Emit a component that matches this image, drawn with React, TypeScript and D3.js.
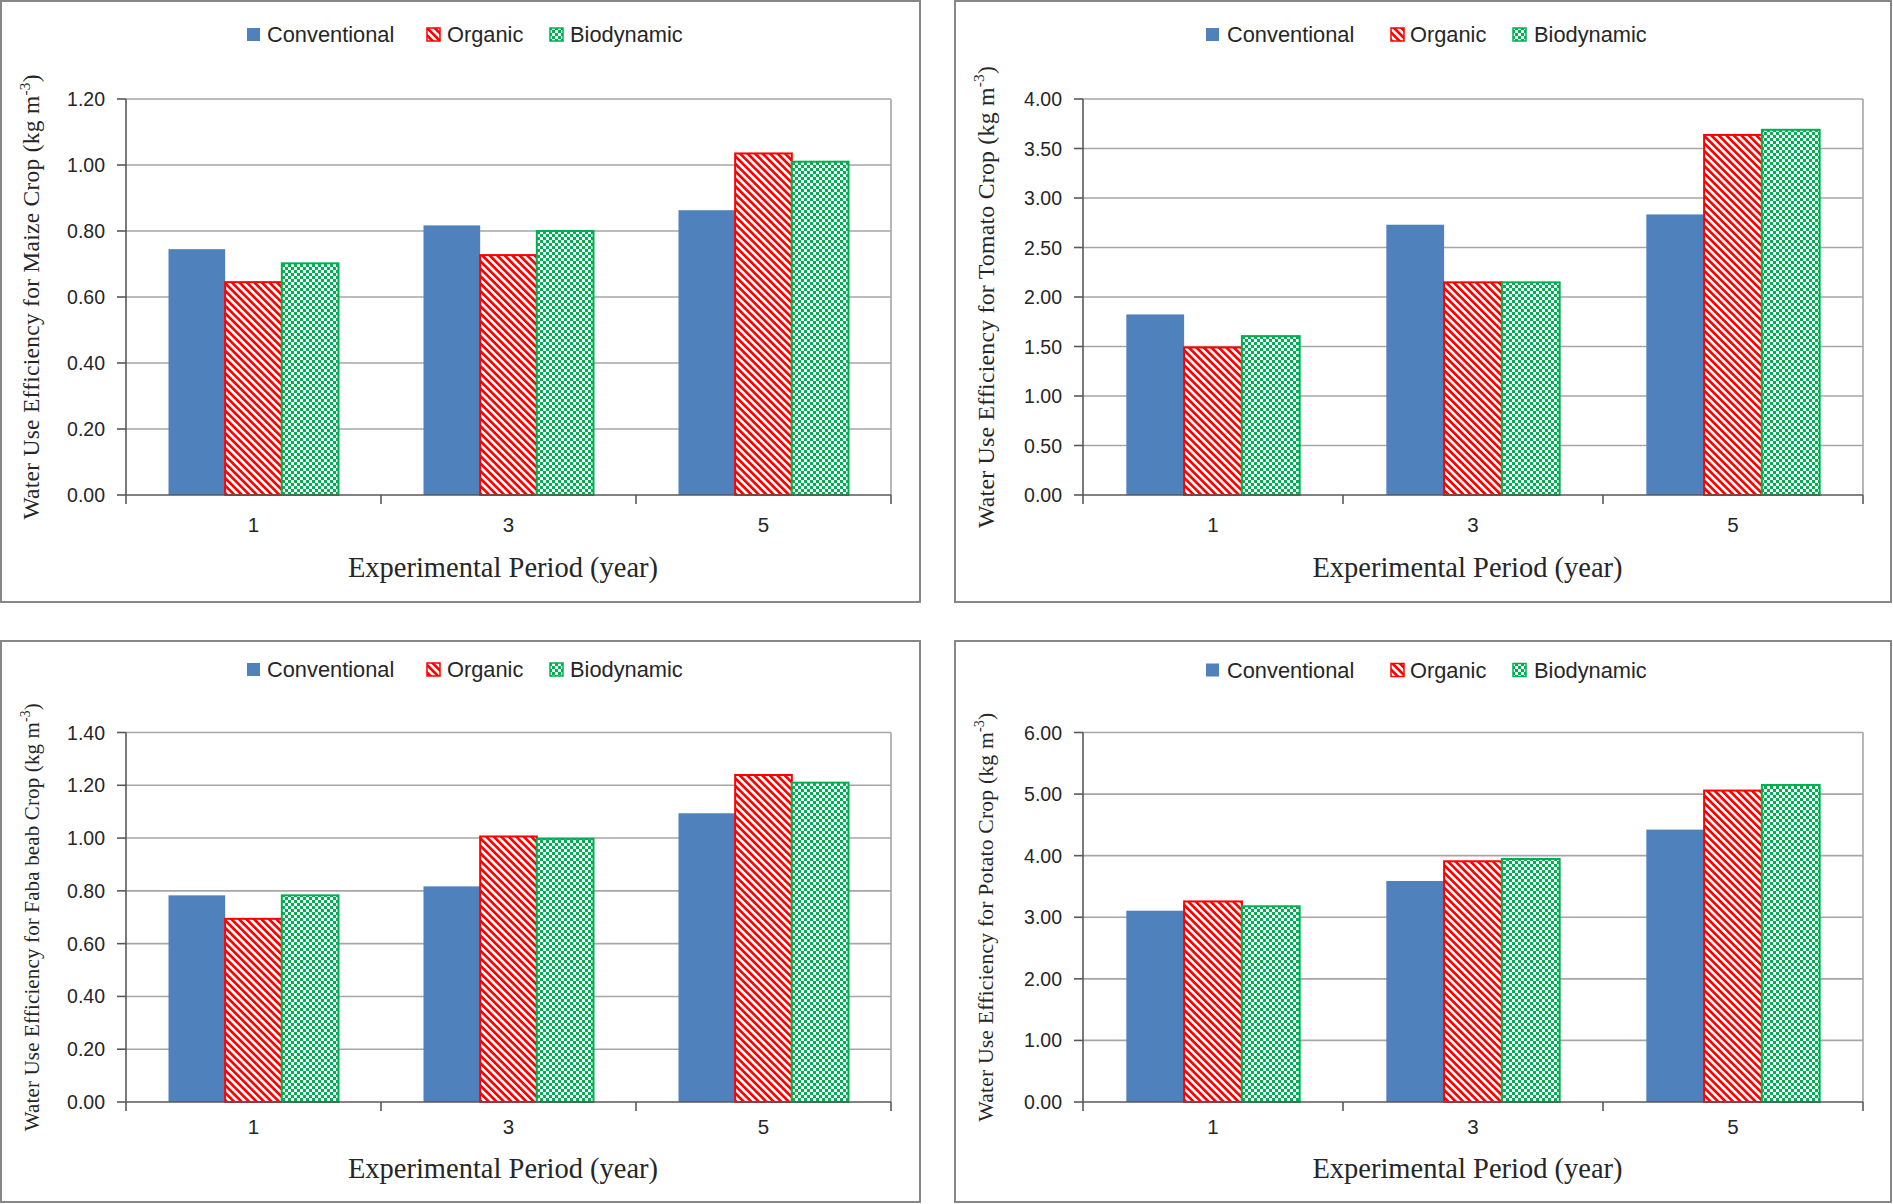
import React from "react";
import * as d3 from "d3";

const periods = ["1", "3", "5"];
const series = ["Conventional", "Organic", "Biodynamic"];

const maizeConventional = [0.745, 0.817, 0.863];
const maizeOrganic = [0.645, 0.727, 1.035];
const maizeBiodynamic = [0.702, 0.8, 1.01];
const maizeTicks = [0, 0.2, 0.4, 0.6, 0.8, 1.0, 1.2];

const tomatoConventional = [1.824, 2.73, 2.834];
const tomatoOrganic = [1.49, 2.148, 3.637];
const tomatoBiodynamic = [1.605, 2.148, 3.689];
const tomatoTicks = [0, 0.5, 1.0, 1.5, 2.0, 2.5, 3.0, 3.5, 4.0];

const fabaConventional = [0.783, 0.817, 1.094];
const fabaOrganic = [0.694, 1.006, 1.239];
const fabaBiodynamic = [0.783, 0.997, 1.21];
const fabaTicks = [0, 0.2, 0.4, 0.6, 0.8, 1.0, 1.2, 1.4];

const potatoConventional = [3.106, 3.589, 4.423];
const potatoOrganic = [3.257, 3.909, 5.057];
const potatoBiodynamic = [3.178, 3.946, 5.148];
const potatoTicks = [0, 1, 2, 3, 4, 5, 6];

const SANS = "'Liberation Sans', Arial, sans-serif";
const SERIF = "'Liberation Serif', 'Times New Roman', serif";

const fills = ["#4f81bd", "url(#stripes)", "url(#checker)"];
const strokes = ["none", "#ff0000", "#00b050"];

type ChartProps = {
  panel: [number, number, number, number];
  plot: { left: number; right: number; top: number; bottom: number };
  ticks: number[];
  values: number[][];
  crop: string;
  titleX: number;
  titleLen: number;
  titleSize: number;
  legendX: number;
  legendY: number;
  legendOffsets: number[];
  tickLabelY: number;
  xTitleY: number;
};

const Chart = (p: ChartProps) => {
  const { left, right, top, bottom } = p.plot;
  const y = d3
    .scaleLinear()
    .domain([0, d3.max(p.ticks) as number])
    .range([bottom, top]);
  const x0 = d3.scaleBand<string>().domain(periods).range([left, right]);
  const x1 = d3
    .scaleBand<string>()
    .domain(series)
    .range([0, x0.bandwidth()])
    .paddingInner(0)
    .paddingOuter(0.75);
  const [px, py, pw, ph] = p.panel;
  const boundaries = [...periods.map((d) => x0(d) as number), right];
  const midY = (top + bottom) / 2;

  return (
    <g>
      <rect x={px} y={py} width={pw} height={ph} fill="white" stroke="#878787" strokeWidth={2} />
      {/* legend */}
      {series.map((s, i) => {
        const sx = p.legendX + p.legendOffsets[i * 2];
        const tx = p.legendX + p.legendOffsets[i * 2 + 1];
        return (
          <g key={s}>
            <rect
              x={sx}
              y={p.legendY - 6.5}
              width={13}
              height={13}
              fill={fills[i]}
              stroke={strokes[i]}
              strokeWidth={i === 0 ? 0 : 1.5}
            />
            <text x={tx} y={p.legendY} dy="0.36em" fontFamily={SANS} fontSize={21.8} fill="#262626">
              {s}
            </text>
          </g>
        );
      })}
      {/* gridlines */}
      {p.ticks.slice(1).map((t) => (
        <line key={t} x1={left} x2={right} y1={y(t)} y2={y(t)} stroke="#a6a6a6" strokeWidth={1.6} />
      ))}
      <line x1={right} x2={right} y1={top} y2={bottom} stroke="#a6a6a6" strokeWidth={1.6} />
      {/* bars */}
      {series.map((s, i) =>
        periods.map((per, j) => {
          const v = p.values[i][j];
          const bx = (x0(per) as number) + (x1(s) as number);
          return (
            <rect
              key={s + per}
              x={bx}
              y={y(v)}
              width={x1.bandwidth()}
              height={y(0) - y(v)}
              fill={fills[i]}
              stroke={strokes[i]}
              strokeWidth={i === 0 ? 0 : 2}
            />
          );
        })
      )}
      {/* axes */}
      <line x1={left} x2={left} y1={top} y2={bottom} stroke="#595959" strokeWidth={1.6} />
      <line x1={left} x2={right} y1={bottom} y2={bottom} stroke="#595959" strokeWidth={1.6} />
      {p.ticks.map((t) => (
        <g key={"yt" + t}>
          <line x1={left - 9} x2={left} y1={y(t)} y2={y(t)} stroke="#595959" strokeWidth={1.6} />
          <text
            x={left - 21}
            y={y(t)}
            dy="0.36em"
            textAnchor="end"
            fontFamily={SANS}
            fontSize={19.5}
            fill="#262626"
          >
            {t.toFixed(2)}
          </text>
        </g>
      ))}
      {boundaries.map((b, k) => (
        <line key={"xt" + k} x1={b} x2={b} y1={bottom} y2={bottom + 9} stroke="#595959" strokeWidth={1.6} />
      ))}
      {periods.map((per) => (
        <text
          key={"xl" + per}
          x={(x0(per) as number) + x0.bandwidth() / 2}
          y={p.tickLabelY}
          dy="0.36em"
          textAnchor="middle"
          fontFamily={SANS}
          fontSize={20.5}
          fill="#262626"
        >
          {per}
        </text>
      ))}
      <text
        x={(left + right) / 2 - 5.5}
        y={p.xTitleY}
        dy="0.36em"
        textAnchor="middle"
        fontFamily={SERIF}
        fontSize={28.5}
        fill="#262626"
      >
        Experimental Period (year)
      </text>
      <text
        transform={`translate(${p.titleX},${midY}) rotate(-90)`}
        textAnchor="middle"
        dy="0.36em"
        fontFamily={SERIF}
        fontSize={p.titleSize}
        fill="#262626"
        textLength={p.titleLen}
        lengthAdjust="spacing"
      >
        {`Water Use Efficiency for ${p.crop} Crop (kg m`}
        <tspan fontSize={p.titleSize * 0.65} dy={-p.titleSize * 0.4}>
          -3
        </tspan>
        <tspan dy={p.titleSize * 0.4}>)</tspan>
      </text>
    </g>
  );
};

const leftOffsets = [0, 20, 180, 200, 303, 323];
const rightOffsets = [0, 21, 185, 204, 307, 328];

const App = () => {
  return (
    <svg
      width={1893}
      height={1204}
      viewBox="0 0 1893 1204"
      style={{ position: "absolute", left: 0, top: 0, background: "white" }}
    >
      <defs>
        <pattern
          id="stripes"
          width={5.3}
          height={5.3}
          patternUnits="userSpaceOnUse"
          patternTransform="rotate(-45)"
        >
          <rect width={5.3} height={5.3} fill="white" />
          <rect width={2.7} height={5.3} fill="#ff0000" />
        </pattern>
        <pattern id="checker" width={6} height={6} patternUnits="userSpaceOnUse">
          <rect width={6} height={6} fill="white" />
          <rect width={3} height={3} fill="#00b050" />
          <rect x={3} y={3} width={3} height={3} fill="#00b050" />
        </pattern>
      </defs>
      <rect width={1893} height={1204} fill="white" />
      <Chart
        panel={[1, 1, 919, 601]}
        plot={{ left: 126, right: 891, top: 99, bottom: 495 }}
        ticks={maizeTicks}
        values={[maizeConventional, maizeOrganic, maizeBiodynamic]}
        crop="Maize"
        titleX={31}
        titleLen={445}
        titleSize={23.5}
        legendX={247}
        legendY={34.5}
        legendOffsets={leftOffsets}
        tickLabelY={524.5}
        xTitleY={567}
      />
      <Chart
        panel={[955, 1, 936, 601]}
        plot={{ left: 1083, right: 1863, top: 99, bottom: 495 }}
        ticks={tomatoTicks}
        values={[tomatoConventional, tomatoOrganic, tomatoBiodynamic]}
        crop="Tomato"
        titleX={985}
        titleLen={462}
        titleSize={23.8}
        legendX={1206}
        legendY={34.5}
        legendOffsets={rightOffsets}
        tickLabelY={524.5}
        xTitleY={567}
      />
      <Chart
        panel={[1, 641, 919, 561]}
        plot={{ left: 126, right: 891, top: 732.5, bottom: 1102 }}
        ticks={fabaTicks}
        values={[fabaConventional, fabaOrganic, fabaBiodynamic]}
        crop="Faba beab"
        titleX={31}
        titleLen={428}
        titleSize={21}
        legendX={247}
        legendY={669.5}
        legendOffsets={leftOffsets}
        tickLabelY={1126.5}
        xTitleY={1167.5}
      />
      <Chart
        panel={[955, 641, 936, 561]}
        plot={{ left: 1083, right: 1863, top: 732.5, bottom: 1102 }}
        ticks={potatoTicks}
        values={[potatoConventional, potatoOrganic, potatoBiodynamic]}
        crop="Potato"
        titleX={985}
        titleLen={409}
        titleSize={21.7}
        legendX={1206}
        legendY={670}
        legendOffsets={rightOffsets}
        tickLabelY={1127}
        xTitleY={1167.5}
      />
    </svg>
  );
};

export default App;
